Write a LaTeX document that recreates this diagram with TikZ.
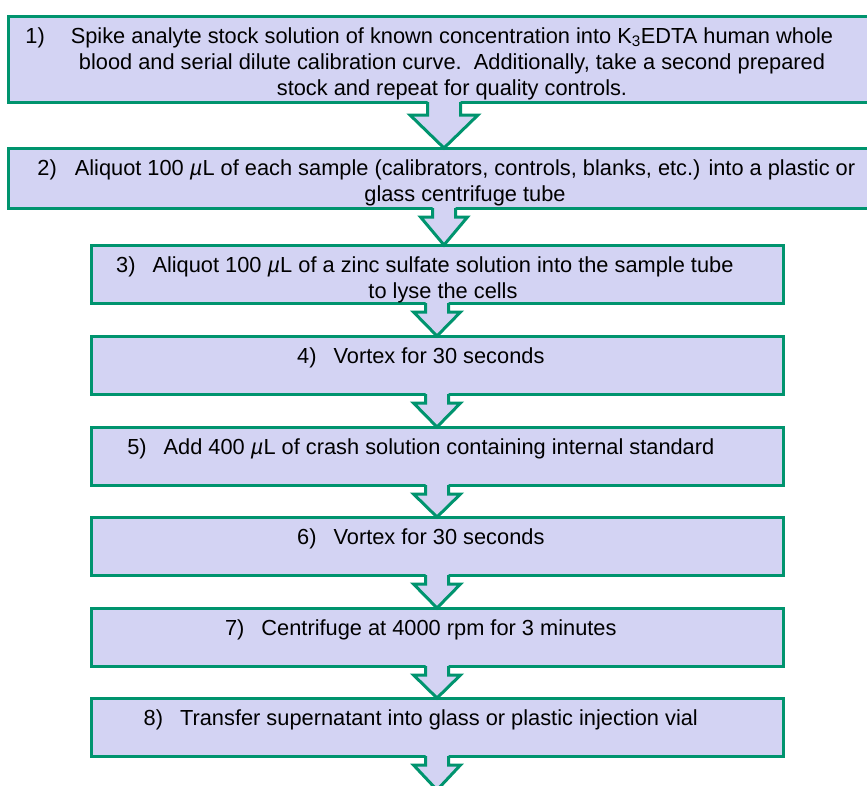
\documentclass[tikz,border=0pt]{standalone}
\usepackage{fontspec}
\setmainfont{Liberation Sans}
\usetikzlibrary{calc}
\definecolor{boxfill}{RGB}{211,211,243}
\definecolor{boxline}{RGB}{0,148,110}

% block arrow from box #1 down to point #2; #3 stem half width, #4 head half width, #5 stem length
\newcommand{\blockarrow}[5]{%
  \fill[boxfill] ($(#1.south)+(-#3,-2)$) -- ($(#1.south)+(-#3,#5)$) -- ($(#1.south)+(-#4,#5)$)
    -- (#1.south |- #2) -- ($(#1.south)+(#4,#5)$) -- ($(#1.south)+(#3,#5)$) -- ($(#1.south)+(#3,-2)$) -- cycle;
  \draw[arrowline] ($(#1.south)+(-#3,0)$) -- ($(#1.south)+(-#3,#5)$) -- ($(#1.south)+(-#4,#5)$)
    -- (#1.south |- #2) -- ($(#1.south)+(#4,#5)$) -- ($(#1.south)+(#3,#5)$) -- ($(#1.south)+(#3,0)$);
}

\begin{document}
\begin{tikzpicture}[x=1pt, y=-1pt,
  box/.style={draw=boxline, fill=boxfill, line width=3pt, outer sep=0pt, inner sep=0pt, anchor=north west},
  arrowline/.style={draw=boxline, line width=3pt},
  steptext/.style={font=\fontsize{21.8}{26}\selectfont, align=center, inner sep=0pt, anchor=base}]
  \useasboundingbox (0,0) rectangle (867,785);
  % boxes 1, 2 run past the right edge (centre x = 444)
  \node[box, minimum width=872, minimum height=86] (b1) at (8,16) {};
  \node[box, minimum width=872, minimum height=60] (b2) at (8,148) {};
  % boxes 3--8: x 91..783, about 91 apart
  \def\bw{692}
  \def\bh{58}
  \foreach \i/\y in {3/245, 4/336, 5/427, 6/517, 7/608, 8/698}
    \node[box, minimum width=\bw, minimum height=\bh] (b\i) at (91,\y) {};
  \coordinate (tail) at (437,790);
  % arrows
  \blockarrow{b1}{b2.north}{16.5}{34}{13}
  \blockarrow{b2}{b3.north}{11.5}{23.5}{9}
  \blockarrow{b3}{b4.north}{11.5}{23.5}{9}
  \blockarrow{b4}{b5.north}{11.5}{23.5}{9}
  \blockarrow{b5}{b6.north}{11.5}{23.5}{9}
  \blockarrow{b6}{b7.north}{11.5}{23.5}{9}
  \blockarrow{b7}{b8.north}{11.5}{23.5}{9}
  \blockarrow{b8}{tail}{11.5}{23.5}{9}
  % texts: base anchor sits on the last line, first line = box top + 27
  \node[steptext] (t1) at (452,95) {\llap{1)\hspace{26pt}}Spike analyte stock solution of known concentration into K\textsubscript{3}EDTA human whole\\
    blood and serial dilute calibration curve.\ \ Additionally, take a second prepared\\
    stock and repeat for quality controls.};
  \node[steptext] (t2) at (465,201) {\llap{2)\hspace{18pt}}Aliquot 100 \textit{µ}L of each sample (calibrators, controls, blanks, etc.) into a plastic or\\
    glass centrifuge tube};
  \node[steptext] (t3) at (443,298) {\llap{3)\hspace{17pt}}Aliquot 100 \textit{µ}L of a zinc sulfate solution into the sample tube\\
    to lyse the cells};
  \node[steptext] (t4) at (439,363) {\llap{4)\hspace{17pt}}Vortex for 30 seconds};
  \node[steptext] (t5) at (439,454) {\llap{5)\hspace{17pt}}Add 400 \textit{µ}L of crash solution containing internal standard};
  \node[steptext] (t6) at (439,544) {\llap{6)\hspace{17pt}}Vortex for 30 seconds};
  \node[steptext] (t7) at (439,635) {\llap{7)\hspace{17pt}}Centrifuge at 4000 rpm for 3 minutes};
  \node[steptext] (t8) at (439,725) {\llap{8)\hspace{17pt}}Transfer supernatant into glass or plastic injection vial};
\end{tikzpicture}
\end{document}
